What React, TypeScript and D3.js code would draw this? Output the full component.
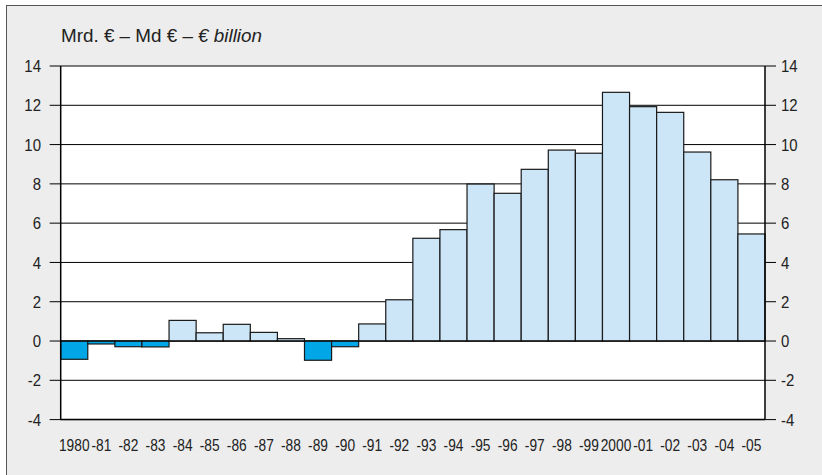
import React from "react";
import * as d3 from "d3";

const years = ["1980","-81","-82","-83","-84","-85","-86","-87","-88","-89","-90","-91","-92","-93","-94","-95","-96","-97","-98","-99","2000","-01","-02","-03","-04","-05"];
const values = [-0.93,-0.15,-0.29,-0.3,1.05,0.42,0.85,0.44,0.12,-0.98,-0.29,0.87,2.1,5.23,5.67,7.99,7.52,8.74,9.72,9.56,12.66,11.93,11.64,9.62,8.21,5.45];
const yTicks = [-4,-2,0,2,4,6,8,10,12,14];
const title = "Mrd. € – Md € – ";
const titleItalic = "€ billion";

const W = 822, H = 475;
const left = 60.7, right = 765, top = 66, bottom = 419.6;
const font = "'Liberation Sans', Arial, sans-serif";

function CText(props: { x: number; y: number; anchor: string; size: number; sx: number; children: React.ReactNode; dy?: string }) {
  const { x, y, anchor, size, sx, children, dy } = props;
  return (
    <text transform={`translate(${x},${y}) scale(${sx},1)`} textAnchor={anchor} dy={dy} fontSize={size} fontFamily={font} fill="#222">
      {children}
    </text>
  );
}

export default function App() {
  const x = d3.scaleBand<string>().domain(years).range([left, right]).padding(0);
  const y = d3.scaleLinear().domain([-4, 14]).range([bottom, top]);
  return (
    <svg width={W} height={H} style={{ position: "absolute", left: 0, top: 0, display: "block" }}>
      <rect x={0} y={0} width={W} height={H} fill="#ffffff" />
      <rect x={6.5} y={5.5} width={W + 10} height={H + 10} fill="#ededed" stroke="#555" strokeWidth={1} />
      <rect x={left} y={top} width={right - left} height={bottom - top} fill="#ffffff" />
      {yTicks.map((t) => (
        <g key={t}>
          <line x1={left - 11} x2={right + 11} y1={y(t)} y2={y(t)} stroke="#000" strokeWidth={1} />
          <CText x={41} y={y(t)} dy="0.36em" anchor="end" size={17} sx={0.88}>{t}</CText>
          <CText x={781} y={y(t)} dy="0.36em" anchor="start" size={17} sx={0.88}>{t}</CText>
        </g>
      ))}
      {years.map((yr, i) => {
        const v = values[i];
        const y0 = y(0), y1 = y(v);
        return (
          <rect key={yr} x={x(yr)!} width={x.bandwidth()} y={Math.min(y0, y1)} height={Math.abs(y1 - y0)}
            fill={v < 0 ? "#00a6e6" : "#cce6f7"} stroke="#1a1a1a" strokeWidth={1.2} />
        );
      })}
      <line x1={left} x2={right} y1={y(0)} y2={y(0)} stroke="#000" strokeWidth={1.2} />
      <line x1={left} x2={left} y1={top} y2={bottom} stroke="#000" strokeWidth={1.5} />
      <line x1={right} x2={right} y1={top} y2={bottom} stroke="#000" strokeWidth={1.5} />
      <line x1={left} x2={right} y1={bottom} y2={bottom} stroke="#000" strokeWidth={1.5} />
      {years.map((yr) => (
        <CText key={yr} x={x(yr)! + x.bandwidth() / 2} y={451} anchor="middle" size={16} sx={0.86}>{yr}</CText>
      ))}
      <text x={61} y={42} fontSize={17.5} fontFamily={font} fill="#222" textLength={201} lengthAdjust="spacingAndGlyphs">
        {title}<tspan fontStyle="italic">{titleItalic}</tspan>
      </text>
    </svg>
  );
}
